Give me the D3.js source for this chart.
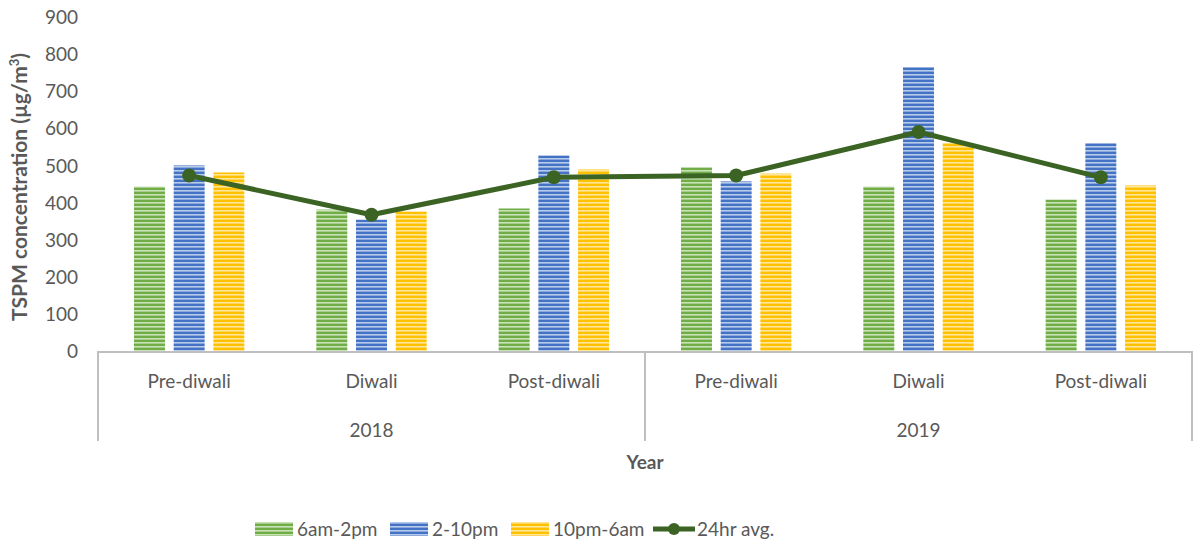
<!DOCTYPE html>
<html>
<head>
<meta charset="utf-8">
<script src="https://cdn.jsdelivr.net/npm/d3@7"></script>
<style>
  html, body { margin: 0; padding: 0; background: #fff; }
  svg { display: block; font-family: Lato, "Open Sans", sans-serif; }
</style>
</head>
<body>
<svg id="chart" width="1194" height="544"></svg>
<script>
// TSPM concentrations by period and time slot
const years = ["2018", "2019"];
const periods = ["Pre-diwali", "Diwali", "Post-diwali"];
const seriesNames = ["6am-2pm", "2-10pm", "10pm-6am"];
const morning = [443, 381, 384, 495, 443, 408];
const evening = [500, 354, 527, 457, 765, 560];
const night = [481, 376, 489, 478, 560, 446];
const dailyAvg = [473, 367, 468, 473, 590, 468];
const yTicks = [0, 100, 200, 300, 400, 500, 600, 700, 800, 900];

const seriesValues = [morning, evening, night];
const colors = [
  { dark: "#70ad47", light: "#c9e2b8" },
  { dark: "#4472c4", light: "#b8cbea" },
  { dark: "#ffc000", light: "#ffe699" }
];
const lineColor = "#3b6424";

const svg = d3.select("#chart");
const plotLeft = 98, plotRight = 1192, plotTop = 17, plotBottom = 351;

// Striped fills
const defs = svg.append("defs");
colors.forEach((c, i) => {
  const p = defs.append("pattern")
    .attr("id", "stripe" + i)
    .attr("patternUnits", "userSpaceOnUse")
    .attr("width", 8).attr("height", 4);
  p.append("rect").attr("width", 8).attr("height", 4).attr("fill", c.dark);
  p.append("rect").attr("y", 2).attr("width", 8).attr("height", 1.6).attr("fill", c.light);
});

const cats = d3.range(years.length * periods.length);
const x0 = d3.scaleBand().domain(cats).range([plotLeft, plotRight]).padding(0);
const step = x0.bandwidth();
const x1 = d3.scaleBand().domain(seriesNames).range([36, step - 36]).paddingInner(0.22);
const y = d3.scaleLinear().domain([0, 900]).range([plotBottom, plotTop]);

// y tick labels
const yAxis = d3.axisLeft(y).tickValues(yTicks).tickSize(0).tickPadding(0);
const gy = svg.append("g").attr("transform", `translate(78,0)`).call(yAxis);
gy.select(".domain").remove();
gy.selectAll("text").attr("font-size", 19).attr("fill", "#595959")
  .attr("font-family", "Lato, sans-serif").attr("dy", "0.35em");

// Bars
seriesNames.forEach((s, si) => {
  svg.append("g").selectAll("rect")
    .data(seriesValues[si])
    .join("rect")
    .attr("x", (d, i) => x0(i) + x1(s))
    .attr("y", d => y(d))
    .attr("width", x1.bandwidth())
    .attr("height", d => y(0) - y(d))
    .attr("fill", `url(#stripe${si})`);
});

// Axis frame
const axisColor = "#bfbfbf";
svg.append("line").attr("x1", plotLeft).attr("x2", plotRight).attr("y1", plotBottom + 1).attr("y2", plotBottom + 1)
  .attr("stroke", axisColor).attr("stroke-width", 2);
const yearEdges = [plotLeft, x0(3), plotRight];
yearEdges.forEach(xv => {
  svg.append("line").attr("x1", xv).attr("x2", xv).attr("y1", plotBottom).attr("y2", 441)
    .attr("stroke", axisColor).attr("stroke-width", 2);
});

// Category labels
svg.append("g").selectAll("text")
  .data(cats)
  .join("text")
  .attr("x", i => x0(i) + step / 2)
  .attr("y", 388)
  .attr("text-anchor", "middle")
  .attr("font-size", 19)
  .attr("fill", "#595959")
  .text(i => periods[i % periods.length]);

svg.append("g").selectAll("text")
  .data(years)
  .join("text")
  .attr("x", (d, i) => (x0(i * 3) + x0(i * 3 + 2) + step) / 2)
  .attr("y", 437)
  .attr("text-anchor", "middle")
  .attr("font-size", 19)
  .attr("fill", "#595959")
  .text(d => d);

// Axis titles
svg.append("text")
  .attr("x", 645).attr("y", 469)
  .attr("text-anchor", "middle")
  .attr("font-size", 19).attr("font-weight", "bold").attr("fill", "#595959")
  .text("Year");

const yt = svg.append("text")
  .attr("transform", "translate(27,187) rotate(-90)")
  .attr("text-anchor", "middle")
  .attr("font-size", 21).attr("font-weight", "bold").attr("fill", "#595959");
yt.append("tspan").text("TSPM concentration (µg/m");
yt.append("tspan").attr("font-size", 13).attr("dy", -8).text("3");
yt.append("tspan").attr("dy", 8).text(")");

// 24hr average line
const line = d3.line()
  .x((d, i) => x0(i) + step / 2)
  .y(d => y(d));
svg.append("path")
  .datum(dailyAvg)
  .attr("d", line)
  .attr("fill", "none")
  .attr("stroke", lineColor)
  .attr("stroke-width", 5)
  .attr("stroke-linejoin", "round");
svg.append("g").selectAll("circle")
  .data(dailyAvg)
  .join("circle")
  .attr("cx", (d, i) => x0(i) + step / 2)
  .attr("cy", d => y(d))
  .attr("r", 7)
  .attr("fill", lineColor);

// Legend
const legend = svg.append("g");
const legendItems = [
  { name: seriesNames[0], x: 255, type: "bar", idx: 0 },
  { name: seriesNames[1], x: 390, type: "bar", idx: 1 },
  { name: seriesNames[2], x: 511, type: "bar", idx: 2 },
  { name: "24hr avg.", x: 653, type: "line" }
];
const ly = 529;
legendItems.forEach(it => {
  if (it.type === "bar") {
    legend.append("rect").attr("x", it.x).attr("y", ly - 7).attr("width", 38).attr("height", 14)
      .attr("fill", `url(#stripe${it.idx})`);
  } else {
    legend.append("line").attr("x1", it.x).attr("x2", it.x + 42).attr("y1", ly).attr("y2", ly)
      .attr("stroke", lineColor).attr("stroke-width", 5);
    legend.append("circle").attr("cx", it.x + 21).attr("cy", ly).attr("r", 6).attr("fill", lineColor);
  }
  legend.append("text")
    .attr("x", it.x + (it.type === "bar" ? 42 : 44))
    .attr("y", ly).attr("dy", "0.35em")
    .attr("font-size", 19).attr("fill", "#595959")
    .text(it.name);
});
</script>
</body>
</html>
